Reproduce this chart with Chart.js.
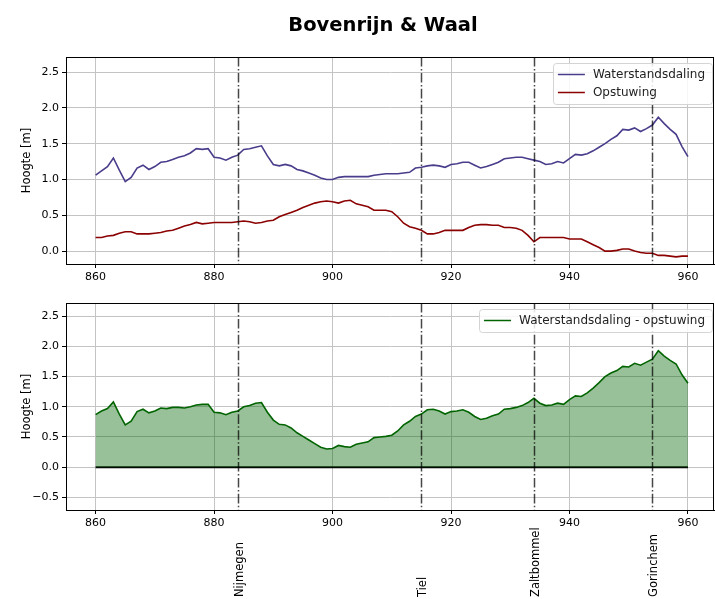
<!DOCTYPE html>
<html>
<head>
<meta charset="utf-8">
<script src="https://cdn.jsdelivr.net/npm/chart.js@4.4.1/dist/chart.umd.min.js"></script>
<style>
  html, body { margin: 0; padding: 0; background: #fff; }
  #wrap { position: relative; width: 715px; height: 599px; }
  #topChart { position: absolute; left: 0; top: 0; }
  #bottomChart { position: absolute; left: 0; top: 290px; }
</style>
</head>
<body>
<div id="wrap">
  <canvas id="topChart" width="715" height="290"></canvas>
  <canvas id="bottomChart" width="715" height="309"></canvas>
</div>
<script>
// Data (rivierkilometer)
const km = [
  860, 861, 862, 863, 864, 865, 866, 867, 868, 869,
  870, 871, 872, 873, 874, 875, 876, 877, 878, 879,
  880, 881, 882, 883, 884, 885, 886, 887, 888, 889,
  890, 891, 892, 893, 894, 895, 896, 897, 898, 899,
  900, 901, 902, 903, 904, 905, 906, 907, 908, 909,
  910, 911, 912, 913, 914, 915, 916, 917, 918, 919,
  920, 921, 922, 923, 924, 925, 926, 927, 928, 929,
  930, 931, 932, 933, 934, 935, 936, 937, 938, 939,
  940, 941, 942, 943, 944, 945, 946, 947, 948, 949,
  950, 951, 952, 953, 954, 955, 956, 957, 958, 959,
  960
];
const waterstandsdaling = [
  1.06, 1.12, 1.18, 1.30, 1.13, 0.97, 1.03, 1.16, 1.20, 1.14,
  1.18, 1.24, 1.25, 1.28, 1.31, 1.33, 1.37, 1.43, 1.42, 1.43,
  1.31, 1.30, 1.27, 1.31, 1.34, 1.42, 1.43, 1.45, 1.47, 1.33,
  1.21, 1.19, 1.21, 1.19, 1.14, 1.12, 1.09, 1.06, 1.02, 1.00,
  1.00, 1.03, 1.04, 1.04, 1.04, 1.04, 1.04, 1.06, 1.07, 1.08,
  1.08, 1.08, 1.09, 1.10, 1.16, 1.17, 1.19, 1.20, 1.19, 1.17,
  1.21, 1.22, 1.24, 1.24, 1.20, 1.16, 1.18, 1.21, 1.24, 1.29,
  1.30, 1.31, 1.31, 1.29, 1.27, 1.25, 1.21, 1.22, 1.25, 1.23,
  1.29, 1.35, 1.34, 1.36, 1.40, 1.45, 1.50, 1.56, 1.61, 1.70,
  1.69, 1.72, 1.67, 1.71, 1.76, 1.87, 1.78, 1.70, 1.63, 1.46,
  1.32
];
const opstuwing = [
  0.19, 0.19, 0.21, 0.22, 0.25, 0.27, 0.27, 0.24, 0.24, 0.24,
  0.25, 0.26, 0.28, 0.29, 0.32, 0.35, 0.37, 0.40, 0.38, 0.39,
  0.40, 0.40, 0.40, 0.40, 0.41, 0.42, 0.41, 0.39, 0.40, 0.42,
  0.43, 0.48, 0.51, 0.54, 0.57, 0.61, 0.64, 0.67, 0.69, 0.70,
  0.69, 0.67, 0.70, 0.71, 0.66, 0.64, 0.62, 0.57, 0.57, 0.57,
  0.55, 0.48, 0.39, 0.34, 0.32, 0.29, 0.24, 0.24, 0.26, 0.29,
  0.29, 0.29, 0.29, 0.33, 0.36, 0.37, 0.37, 0.36, 0.36, 0.33,
  0.33, 0.32, 0.29, 0.22, 0.13, 0.19, 0.19, 0.19, 0.19, 0.19,
  0.17, 0.17, 0.17, 0.13, 0.09, 0.05, 0.00, 0.00, 0.01, 0.03,
  0.03, 0.00, -0.02, -0.03, -0.03, -0.06, -0.06, -0.07, -0.08, -0.07,
  -0.07
];
const verschil = [
  0.87, 0.93, 0.97, 1.08, 0.88, 0.70, 0.76, 0.92, 0.96, 0.90,
  0.93, 0.98, 0.97, 0.99, 0.99, 0.98, 1.00, 1.03, 1.04, 1.04,
  0.91, 0.90, 0.87, 0.91, 0.93, 1.00, 1.02, 1.06, 1.07, 0.91,
  0.78, 0.71, 0.70, 0.65, 0.57, 0.51, 0.45, 0.39, 0.33, 0.30,
  0.31, 0.36, 0.34, 0.33, 0.38, 0.40, 0.42, 0.49, 0.50, 0.51,
  0.53, 0.60, 0.70, 0.76, 0.84, 0.88, 0.95, 0.96, 0.93, 0.88,
  0.92, 0.93, 0.95, 0.91, 0.84, 0.79, 0.81, 0.85, 0.88, 0.96,
  0.97, 0.99, 1.02, 1.07, 1.14, 1.06, 1.02, 1.03, 1.06, 1.04,
  1.12, 1.18, 1.17, 1.23, 1.31, 1.40, 1.50, 1.56, 1.60, 1.67,
  1.66, 1.72, 1.69, 1.74, 1.79, 1.93, 1.84, 1.77, 1.71, 1.53,
  1.39
];
const stadKm = [884, 915, 934, 954];
const stadNamen = ['Nijmegen', 'Tiel', 'Zaltbommel', 'Gorinchem'];
const xTicks = [860, 880, 900, 920, 940, 960];
const yTicksTop = [0, 0.5, 1, 1.5, 2, 2.5];
const yTicksBottom = [-0.5, 0, 0.5, 1, 1.5, 2, 2.5];
const nulLijn = [0, 0];

Chart.defaults.font.family = 'DejaVu Sans';
Chart.defaults.font.size = 11;
Chart.defaults.color = '#000';

function pts(ys) {
    return km.map((x, i) => ({ x: x, y: ys[i] }));
}

// Frame, grid extras, dash-dot lines, legend
const framePlugin = {
    id: 'frame',
    afterDatasetsDraw(chart, args, opts) {
        const ctx = chart.ctx;
        const a = chart.chartArea;
        const xs = chart.scales.x;
        ctx.save();
        ctx.strokeStyle = 'rgba(0,0,0,0.72)';
        ctx.lineWidth = 1.5;
        ctx.setLineDash([9.6, 2.4, 1.5, 2.4]);
        stadKm.forEach(k => {
            const px = Math.round(xs.getPixelForValue(k)) + 0.5;
            ctx.beginPath();
            ctx.moveTo(px, a.top);
            ctx.lineTo(px, a.bottom);
            ctx.stroke();
        });
        ctx.restore();
    },
    afterDraw(chart, args, opts) {
        const ctx = chart.ctx;
        const a = chart.chartArea;
        ctx.save();
        ctx.strokeStyle = '#000';
        ctx.lineWidth = 1;
        ctx.strokeRect(Math.round(a.left) + 0.5, Math.round(a.top) + 0.5,
            Math.round(a.right - a.left) - 1, Math.round(a.bottom - a.top));
        ctx.restore();

        // legend
        const items = chart.data.datasets.filter(d => d.label);
        ctx.save();
        ctx.font = '12px "DejaVu Sans"';
        let tw = 0;
        items.forEach(d => { tw = Math.max(tw, ctx.measureText(d.label).width); });
        const w = 40 + tw + 7;
        const h = 6 + items.length * 18 - 1;
        const x0 = a.right - 2 - w;
        const y0 = a.top + 6;
        ctx.fillStyle = 'rgba(255,255,255,0.85)';
        ctx.strokeStyle = '#d4d4d4';
        ctx.lineWidth = 1;
        ctx.beginPath();
        ctx.roundRect(Math.round(x0) + 0.5, Math.round(y0) + 0.5, Math.round(w), Math.round(h), 3);
        ctx.fill();
        ctx.stroke();
        items.forEach((d, i) => {
            const cy = y0 + 11.5 + i * 18;
            ctx.strokeStyle = d.borderColor;
            ctx.lineWidth = 1.5;
            ctx.beginPath();
            ctx.moveTo(x0 + 5, cy);
            ctx.lineTo(x0 + 32, cy);
            ctx.stroke();
            ctx.fillStyle = '#222';
            ctx.textBaseline = 'middle';
            ctx.textAlign = 'left';
            ctx.fillText(d.label, x0 + 40, cy);
        });
        ctx.restore();

        if (opts.title) {
            ctx.save();
            ctx.font = 'bold 19.5px "DejaVu Sans"';
            ctx.fillStyle = '#000';
            ctx.textAlign = 'center';
            ctx.textBaseline = 'middle';
            ctx.fillText(opts.title, 383, 26);
            ctx.restore();
        }

        if (opts.steden) {
            const xs = chart.scales.x;
            ctx.save();
            ctx.font = '11.5px "DejaVu Sans"';
            ctx.fillStyle = '#000';
            ctx.textAlign = 'left';
            ctx.textBaseline = 'middle';
            stadKm.forEach((k, i) => {
                const px = xs.getPixelForValue(k) + 2;
                ctx.save();
                ctx.translate(px, chart.height - 2);
                ctx.rotate(-Math.PI / 2);
                ctx.fillText(stadNamen[i], 0, 0);
                ctx.restore();
            });
            ctx.restore();
        }
    }
};

function xScale(h) {
    return {
        type: 'linear',
        min: 855,
        max: 964.4,
        afterBuildTicks: s => { s.ticks = xTicks.map(v => ({ value: v })); },
        afterFit: s => { s.height = h; },
        ticks: { padding: 3, font: { size: 11 }, color: '#000', maxRotation: 0 },
        grid: { color: '#c4c4c4', lineWidth: 1, tickLength: 4, tickColor: '#000' },
        border: { color: '#000', width: 1 }
    };
}

function yScale(min, max, tickArr) {
    return {
        type: 'linear',
        min: min,
        max: max,
        afterBuildTicks: s => { s.ticks = tickArr.map(v => ({ value: v })); },
        afterFit: s => { s.width = 66; },
        ticks: { padding: 3, font: { size: 11 }, color: '#000', callback: v => v.toFixed(1).replace('-', '\u2212') },
        grid: { color: '#c4c4c4', lineWidth: 1, tickLength: 4, tickColor: '#000' },
        border: { color: '#000', width: 1 },
        title: { display: true, text: 'Hoogte [m]', font: { size: 11.5 }, color: '#000', padding: { top: 20, bottom: 0 } }
    };
}

const baseOptions = {
    responsive: false,
    animation: false,
    devicePixelRatio: 1,
    plugins: { legend: { display: false }, tooltip: { enabled: false } },
    elements: { point: { radius: 0 }, line: { tension: 0 } }
};

// Top chart
const topChart = new Chart(document.getElementById('topChart'), {
    type: 'line',
    data: {
        datasets: [{
            label: 'Waterstandsdaling',
            data: pts(waterstandsdaling),
            borderColor: '#483D8B',
            borderWidth: 1.6,
            fill: false
        }, {
            label: 'Opstuwing',
            data: pts(opstuwing),
            borderColor: '#8B0000',
            borderWidth: 1.6,
            fill: false
        }]
    },
    options: Object.assign({}, baseOptions, {
        layout: { padding: { top: 57, right: 1, left: 0, bottom: 0 } },
        plugins: Object.assign({}, baseOptions.plugins, { frame: { title: 'Bovenrijn & Waal' } }),
        scales: {
            x: xScale(26),
            y: yScale(-0.18, 2.71, yTicksTop)
        }
    }),
    plugins: [framePlugin]
});

// Bottom chart
const bottomChart = new Chart(document.getElementById('bottomChart'), {
    type: 'line',
    data: {
        datasets: [{
            label: 'Waterstandsdaling - opstuwing',
            data: pts(verschil),
            borderColor: '#006400',
            backgroundColor: 'rgba(0,100,0,0.4)',
            borderWidth: 1.6,
            fill: 'origin'
        }, {
            data: [{ x: km[0], y: nulLijn[0] }, { x: km[km.length - 1], y: nulLijn[1] }],
            borderColor: '#000',
            borderWidth: 2,
            fill: false
        }]
    },
    options: Object.assign({}, baseOptions, {
        layout: { padding: { top: 13, right: 1, left: 0, bottom: 0 } },
        plugins: Object.assign({}, baseOptions.plugins, { frame: { steden: true } }),
        scales: {
            x: xScale(89),
            y: yScale(-0.71, 2.72, yTicksBottom)
        }
    }),
    plugins: [framePlugin]
});
</script>
</body>
</html>
